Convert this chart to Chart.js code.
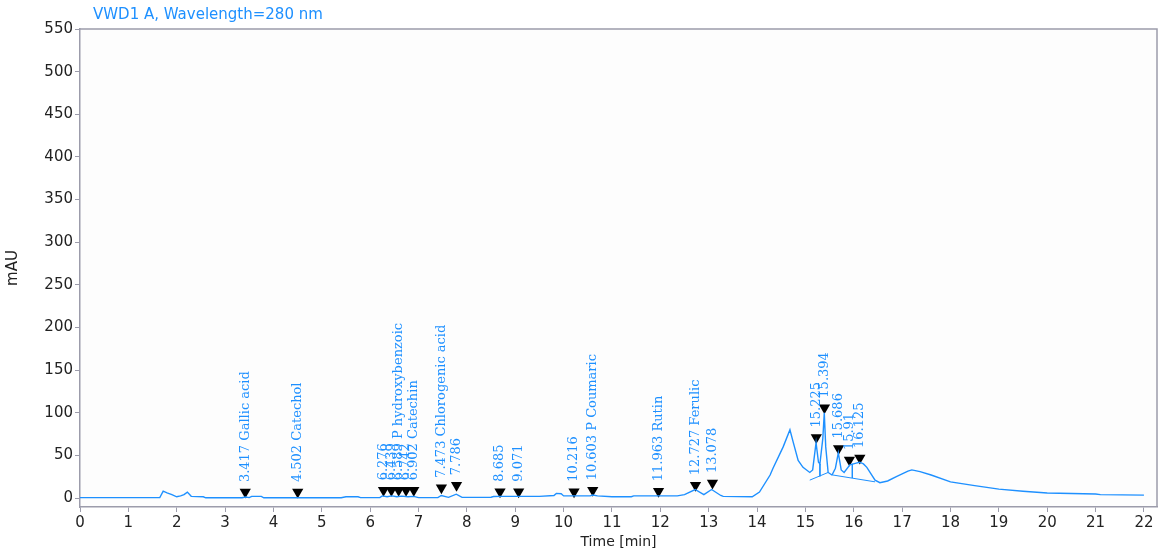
<!DOCTYPE html>
<html>
<head>
<meta charset="utf-8">
<script src="https://cdn.jsdelivr.net/npm/chart.js@4/dist/chart.umd.min.js"></script>
<style>
  body { margin: 0; background: #fff; }
  #wrap { width: 1170px; height: 557px; position: relative; }
</style>
</head>
<body>
<div id="wrap"><canvas id="chrom"></canvas></div>
<script>
// chromatogram trace (time in min, absorbance in mAU)
const times = [0, 1.65, 1.72, 1.8, 1.9, 2.0, 2.08, 2.15, 2.22, 2.3, 2.55, 2.6, 3.35, 3.42, 3.5, 3.55, 3.75, 3.8,
  5.4, 5.5, 5.75, 5.8, 6.2, 6.25, 6.35, 6.45, 6.55, 6.65, 6.78, 6.9, 7.0, 7.4, 7.47, 7.62, 7.78, 7.9,
  8.5, 8.55, 8.7, 9.0, 9.5, 9.8, 9.85, 9.95, 10.0, 10.2, 10.55, 10.6, 10.7, 11.0, 11.4, 11.45, 12.35, 12.5,
  12.72, 12.9, 13.06, 13.25, 13.3, 13.9, 14.05, 14.27, 14.33, 14.54, 14.68, 14.75, 14.85, 14.95, 15.09,
  15.15, 15.22, 15.27, 15.3, 15.36, 15.39, 15.42, 15.47, 15.55, 15.62, 15.68, 15.74, 15.8, 15.92, 16.05,
  16.12, 16.2, 16.27, 16.44, 16.54, 16.7, 16.88, 17.12, 17.2, 17.37, 17.6, 18.0, 18.5, 19.0, 19.5, 20.0,
  20.5, 21.0, 21.1, 22.0];
const mAU = [0.5, 0.5, 8, 6, 4, 1.5, 2.5, 4, 7, 2, 1.5, 0.3, 0.3, 1.2, 0.5, 2, 2, 0.3,
  0.3, 1.5, 1.5, 0.5, 0.5, 2.5, 1.5, 2.5, 1.5, 2.2, 1.5, 2, 0.5, 0.5, 3, 0.8, 4.5, 0.8,
  1, 1.8, 2, 2, 2, 3, 5.5, 5, 2.5, 2.5, 2.5, 3.5, 2.5, 1.5, 1.5, 2.5, 2.5, 4,
  10, 4, 10, 3, 2, 1.5, 7, 27, 35, 60, 80, 65, 44, 36, 30,
  33, 65, 42, 40, 70, 100, 60, 30, 27, 35, 53, 33, 30, 39, 41,
  42, 40, 36, 21, 18, 20, 25, 31.5, 33, 31, 27, 19, 14.5, 10.5, 8, 6,
  5.3, 4.7, 4, 3.4];

// integration baseline and drop lines (null = break)
const baseT = [15.09, 15.47, null, 15.57, 16.44, null, 15.3, 15.3, null, 15.97, 15.97];
const baseV = [21, 30, null, 27, 19, null, 40, 25.5, null, 40, 23.5];

// peak markers and labels
const peakTimes = [3.417, 4.502, 6.276, 6.439, 6.589, 6.742, 6.902, 7.473, 7.786, 8.685, 9.071, 10.216,
  10.603, 11.963, 12.727, 13.078, 15.225, 15.394, 15.686, 15.91, 16.125];
const markerVals = [7, 7, 9, 9, 9, 9, 9, 12, 15, 7.5, 7.5, 7.5, 9, 8, 15, 17.5, 71, 106, 58, 44.5, 47];
const peakLabels = ['3.417 Gallic acid', '4.502 Catechol', '6.276', '6.439', '6.589 P hydroxybenzoic', '6.742',
  '6.902 Catechin', '7.473 Chlorogenic acid', '7.786', '8.685', '9.071', '10.216', '10.603 P Coumaric',
  '11.963 Rutin', '12.727 Ferulic', '13.078', '15.225', '15.394', '15.686', '15.91', '16.125'];

const yTicks = [0, 50, 100, 150, 200, 250, 300, 350, 400, 450, 500, 550];
const xTicks = [0, 1, 2, 3, 4, 5, 6, 7, 8, 9, 10, 11, 12, 13, 14, 15, 16, 17, 18, 19, 20, 21, 22];

const blue = 'rgb(30,144,255)';
const frameCol = '#9c9cab';

const frame = {
  id: 'frame',
  beforeDraw(chart) {
    const { ctx, chartArea: a } = chart;
    ctx.save();
    ctx.fillStyle = '#fdfdfd';
    ctx.fillRect(a.left, a.top, a.right - a.left, a.bottom - a.top);
    ctx.restore();
  },
  afterDraw(chart) {
    const { ctx, chartArea: a } = chart;
    ctx.save();
    ctx.strokeStyle = frameCol;
    ctx.lineWidth = 1.5;
    ctx.beginPath();
    ctx.moveTo(a.left, a.top);
    ctx.lineTo(a.right, a.top);
    ctx.lineTo(a.right, a.bottom);
    ctx.stroke();
    ctx.fillStyle = blue;
    ctx.font = '15px "DejaVu Sans", sans-serif';
    ctx.textBaseline = 'middle';
    ctx.fillText('VWD1 A, Wavelength=280 nm', 93, 15);
    ctx.restore();
  }
};

const peakText = {
  id: 'peakText',
  afterDatasetsDraw(chart) {
    const { ctx, scales } = chart;
    ctx.save();
    ctx.fillStyle = blue;
    ctx.font = '13px "DejaVu Serif", serif';
    ctx.textAlign = 'left';
    ctx.textBaseline = 'middle';
    peakTimes.forEach((t, i) => {
      const x = scales.x.getPixelForValue(t);
      const y = scales.y.getPixelForValue(markerVals[i]) - 10;
      ctx.save();
      ctx.translate(x, y);
      ctx.rotate(-Math.PI / 2);
      ctx.fillText(peakLabels[i], 0, 0);
      ctx.restore();
    });
    ctx.restore();
  }
};

new Chart(document.getElementById('chrom'), {
  type: 'line',
  data: {
    datasets: [{
      data: times.map((t, i) => ({ x: t, y: mAU[i] })),
      borderColor: blue,
      borderWidth: 1.4,
      pointRadius: 0,
      tension: 0
    }, {
      data: baseT.map((t, i) => ({ x: t, y: baseV[i] })),
      borderColor: blue,
      borderWidth: 1,
      pointRadius: 0,
      spanGaps: false
    }, {
      data: peakTimes.map((t, i) => ({ x: t, y: markerVals[i] })),
      showLine: false,
      pointStyle: 'triangle',
      rotation: 180,
      pointRadius: 6.5,
      pointBackgroundColor: '#000',
      pointBorderColor: '#000',
      pointBorderWidth: 0
    }]
  },
  options: {
    responsive: true,
    maintainAspectRatio: false,
    animation: false,
    layout: { padding: { top: 29, right: 13, left: 0, bottom: 0 } },
    plugins: { legend: { display: false }, tooltip: { enabled: false } },
    scales: {
      x: {
        type: 'linear',
        min: 0,
        max: 22.27,
        afterBuildTicks: s => { s.ticks = xTicks.map(v => ({ value: v })); },
        afterFit: s => { s.height = 50; },
        border: { color: frameCol, width: 1.5 },
        grid: { drawOnChartArea: false, tickLength: 5, color: frameCol },
        ticks: { color: '#222', padding: 2, font: { family: 'DejaVu Sans', size: 15 } },
        title: { display: true, text: 'Time [min]', color: '#222', padding: { top: 0, bottom: 6 },
          font: { family: 'DejaVu Sans', size: 14 } }
      },
      y: {
        min: -10.5,
        max: 550,
        afterBuildTicks: s => { s.ticks = yTicks.map(v => ({ value: v })); },
        afterFit: s => { s.width = 80; },
        border: { color: frameCol, width: 1.5 },
        grid: { drawOnChartArea: false, tickLength: 5, color: frameCol },
        ticks: { color: '#222', padding: 2, font: { family: 'DejaVu Sans', size: 15 } },
        title: { display: true, text: 'mAU', color: '#222', padding: { top: 4, bottom: 0 },
          font: { family: 'DejaVu Sans', size: 15 } }
      }
    }
  },
  plugins: [frame, peakText]
});
</script>
</body>
</html>
